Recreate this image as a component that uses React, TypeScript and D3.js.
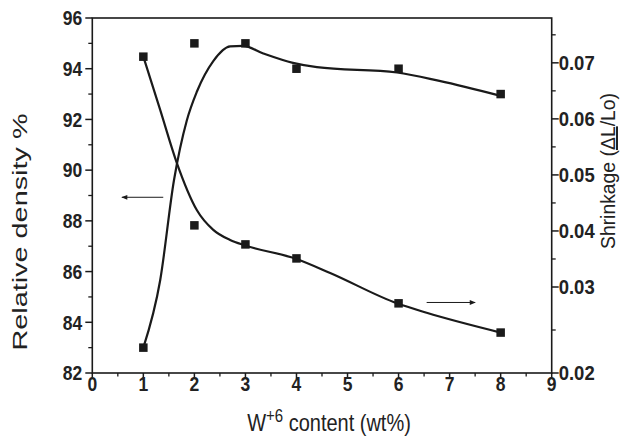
import React from 'react';
import * as d3 from 'd3';

const W = 622;
const H = 437;

// axis ticks
const xMajorTicks = [0, 1, 2, 3, 4, 5, 6, 7, 8, 9];
const xMinorTicks = [0.5, 1.5, 2.5, 3.5, 4.5, 5.5, 6.5, 7.5, 8.5];
const leftMajorTicks = [82, 84, 86, 88, 90, 92, 94, 96];
const leftMinorTicks = [83, 85, 87, 89, 91, 93, 95];
const rightMajorTicks = [0.02, 0.03, 0.04, 0.05, 0.06, 0.07];
const rightMinorTicks = [0.025, 0.035, 0.045, 0.055, 0.065, 0.075];

// measured data
const contentX = [1, 2, 3, 4, 6, 8];
const densityValues = [83.0, 95.0, 95.0, 94.0, 94.0, 93.0];
const shrinkageValues = [0.0711, 0.041, 0.0376, 0.0351, 0.0281, 0.0247];

// fitted (smoothed) curves as drawn in the figure
const densityFitX = [1, 1.33, 1.6, 1.85, 2.05, 2.37, 2.7, 2.95, 3.35, 3.93, 4.4, 5.97, 6.8, 8];
const densityFitY = [83.0, 85.66, 89.6, 91.95, 93.1, 94.3, 94.88, 94.9, 94.6, 94.23, 94.06, 93.85, 93.52, 92.93];
const shrinkageFitX = [1, 1.33, 1.65, 2.05, 2.37, 2.7, 3.0, 4.0, 4.66, 5.97, 6.55, 8];
const shrinkageFitY = [0.0711, 0.0616, 0.0523, 0.0437, 0.0402, 0.0384, 0.0374, 0.035, 0.0325, 0.0281, 0.027, 0.0247];

// axis-indicator arrows: [xStart, xEnd, value]
const densityArrow = [1.39, 0.58, 88.93];
const shrinkageArrow = [6.55, 7.5, 0.0282];

const PL = 92.3, PR = 551.7, PT = 18, PB = 373;

const x = d3.scaleLinear().domain([0, 9]).range([PL, PR]);
const yL = d3.scaleLinear().domain([82, 96]).range([PB, PT]);
const yR = d3.scaleLinear().domain([0.02, 0.03, 0.078]).range([PB, 287, PT]);

const FONT = '"Liberation Sans", Arial, Helvetica, sans-serif';

export default function App() {
  const densityLine = d3
    .line<number>()
    .x((_, i) => x(densityFitX[i]))
    .y((d) => yL(d))
    .curve(d3.curveMonotoneX);
  const shrinkageLine = d3
    .line<number>()
    .x((_, i) => x(shrinkageFitX[i]))
    .y((d) => yR(d))
    .curve(d3.curveMonotoneX);

  const sq = 8.5;
  const stroke = '#1a1a1a';
  const sy = (y: number) => `translate(0,${y}) scale(1,1.12) translate(0,${-y})`;

  return (
    <svg
      width={W}
      height={H}
      style={{ position: 'absolute', left: 0, top: 0, background: '#fff' }}
      fontFamily={FONT}
    >
      <defs>
        <marker id="ah" viewBox="0 0 10 10" refX="9" refY="5" markerWidth="7" markerHeight="6" orient="auto" markerUnits="userSpaceOnUse">
          <path d="M0,1 L10,5 L0,9 Z" fill={stroke} />
        </marker>
      </defs>

      {/* frame */}
      <rect x={PL} y={PT} width={PR - PL} height={PB - PT} fill="none" stroke={stroke} strokeWidth={1.6} />

      {/* bottom axis ticks */}
      {xMajorTicks.map((t) => (
        <g key={'xm' + t}>
          <line x1={x(t)} x2={x(t)} y1={PB} y2={PB + 6} stroke={stroke} strokeWidth={1.5} />
          <text x={x(t)} y={PB + 18} textAnchor="middle" fontSize={17.5} fontWeight="bold" fill="#222"
            transform={sy(PB + 18)}>
            {t}
          </text>
        </g>
      ))}
      {xMinorTicks.map((t) => (
        <line key={'xn' + t} x1={x(t)} x2={x(t)} y1={PB} y2={PB + 3.5} stroke={stroke} strokeWidth={1.3} />
      ))}

      {/* left axis ticks */}
      {leftMajorTicks.map((t) => (
        <g key={'lm' + t}>
          <line x1={PL - 7} x2={PL} y1={yL(t)} y2={yL(t)} stroke={stroke} strokeWidth={1.5} />
          <text x={PL - 10} y={yL(t) + 6.5} textAnchor="end" fontSize={17.5} fontWeight="bold" fill="#222"
            transform={sy(yL(t))}>
            {t}
          </text>
        </g>
      ))}
      {leftMinorTicks.map((t) => (
        <line key={'ln' + t} x1={PL - 4} x2={PL} y1={yL(t)} y2={yL(t)} stroke={stroke} strokeWidth={1.3} />
      ))}

      {/* right axis ticks */}
      {rightMajorTicks.map((t) => (
        <g key={'rm' + t}>
          <line x1={PR} x2={PR + 7} y1={yR(t)} y2={yR(t)} stroke={stroke} strokeWidth={1.5} />
          <text x={PR + 7} y={yR(t) + 6.5} textAnchor="start" fontSize={18.5} fontWeight="bold" fill="#222"
            transform={sy(yR(t))}>
            {t.toFixed(2)}
          </text>
        </g>
      ))}
      {rightMinorTicks.map((t) => (
        <line key={'rn' + t} x1={PR} x2={PR + 4} y1={yR(t)} y2={yR(t)} stroke={stroke} strokeWidth={1.3} />
      ))}

      {/* axis titles */}
      <text
        transform="translate(27,232) rotate(-90)"
        textAnchor="middle"
        fontSize={21}
        fill="#222"
        textLength={237}
        lengthAdjust="spacingAndGlyphs"
      >
        Relative density %
      </text>
      <text
        transform="translate(615,171) rotate(-90)"
        textAnchor="middle"
        fontSize={20}
        fill="#222"
        textLength={156}
        lengthAdjust="spacingAndGlyphs"
      >
        Shrinkage (<tspan textDecoration="underline">ΔL</tspan>/Lo)
      </text>
      <g transform="translate(329,431) scale(1,1.18)">
        <text x={0} y={0} textAnchor="middle" fontSize={20} fill="#222">
          W<tspan dy={-8} fontSize={15}>+6</tspan>
          <tspan dy={8}> content (wt%)</tspan>
        </text>
      </g>

      {/* curves */}
      <path d={densityLine(densityFitY) || ''} fill="none" stroke={stroke} strokeWidth={2.2} />
      <path d={shrinkageLine(shrinkageFitY) || ''} fill="none" stroke={stroke} strokeWidth={2.2} />

      {/* markers */}
      {contentX.map((c, i) => (
        <rect key={'d' + c} x={x(c) - sq / 2} y={yL(densityValues[i]) - sq / 2} width={sq} height={sq} fill={stroke} />
      ))}
      {contentX.map((c, i) => (
        <rect key={'s' + c} x={x(c) - sq / 2} y={yR(shrinkageValues[i]) - sq / 2} width={sq} height={sq} fill={stroke} />
      ))}

      {/* axis indicator arrows */}
      <line x1={x(densityArrow[0])} x2={x(densityArrow[1])} y1={yL(densityArrow[2])} y2={yL(densityArrow[2])}
        stroke={stroke} strokeWidth={1} markerEnd="url(#ah)" />
      <line x1={x(shrinkageArrow[0])} x2={x(shrinkageArrow[1])} y1={yR(shrinkageArrow[2])} y2={yR(shrinkageArrow[2])}
        stroke={stroke} strokeWidth={1} markerEnd="url(#ah)" />
    </svg>
  );
}
